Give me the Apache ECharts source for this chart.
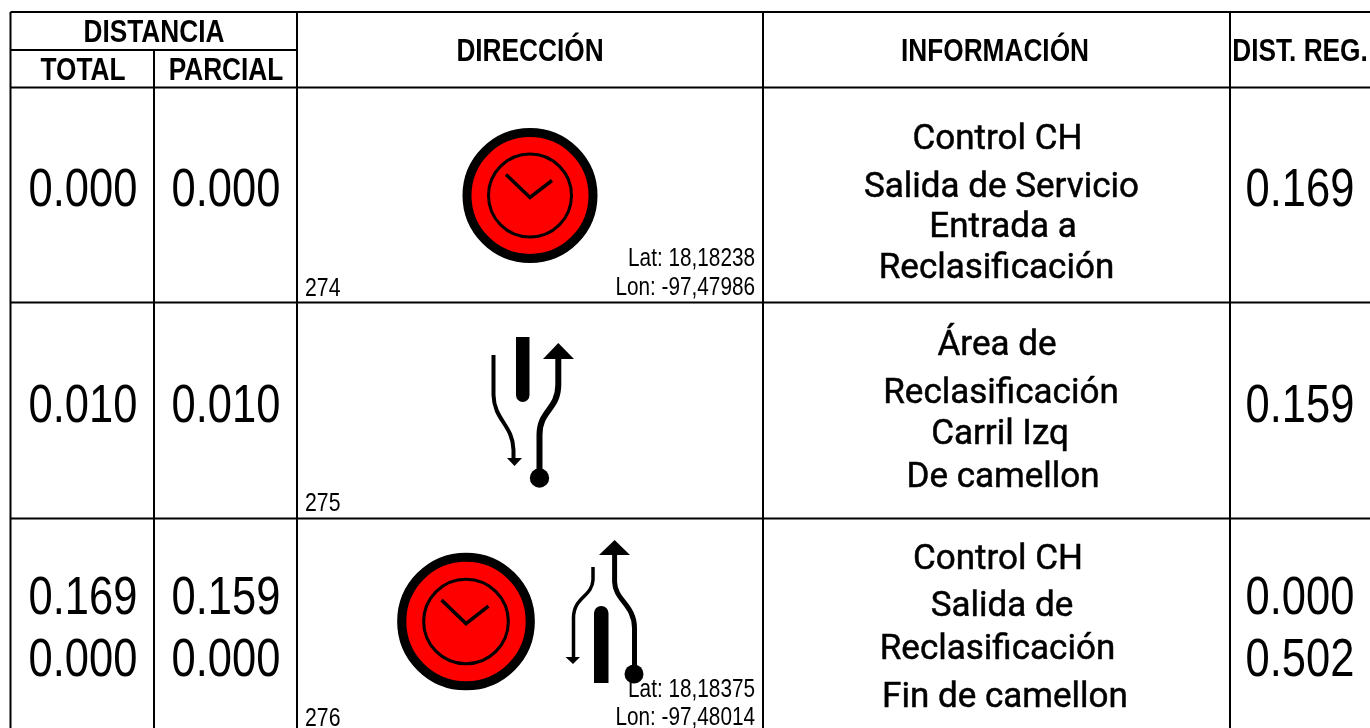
<!DOCTYPE html>
<html><head><meta charset="utf-8">
<script src="https://cdn.jsdelivr.net/npm/echarts@6/dist/echarts.min.js"></script>
<style>html,body{margin:0;padding:0;background:#fff}#c{width:1370px;height:728px}</style>
</head><body><div id="c"></div>
<script>
// ---- table content ----
const headerTop = ['DISTANCIA', 'DIRECCIÓN', 'INFORMACIÓN', 'DIST. REG.'];
const headerSub = ['TOTAL', 'PARCIAL'];
const rowIds = ['274', '275', '276'];
const totals = [['0.000'], ['0.010'], ['0.169', '0.000']];
const partials = [['0.000'], ['0.010'], ['0.159', '0.000']];
const distReg = [['0.169'], ['0.159'], ['0.000', '0.502']];
const latitudes = ['Lat: 18,18238', '', 'Lat: 18,18375'];
const longitudes = ['Lon: -97,47986', '', 'Lon: -97,48014'];
const info = [
  ['Control CH', 'Salida de Servicio', 'Entrada a', 'Reclasificación'],
  ['Área de', 'Reclasificación', 'Carril Izq', 'De camellon'],
  ['Control CH', 'Salida de', 'Reclasificación', 'Fin de camellon']
];

// ---- layout (separate from the content) ----
const W = 1370, H = 728;
const colX = [10.5, 154, 297, 763, 1230];
const rowY = [12, 87.5, 302.5, 518.5];
const headMidY = 50;
const numY = [[191], [407], [599, 661]];
const infoY = [[140.5, 188.5, 228.5, 269.5], [346.5, 394.5, 435.5, 478.5], [560.5, 607.5, 650.5, 698.5]];
const infoX = [[997.5, 1001.5, 1003, 996.5], [997, 1001, 1000, 1003], [998, 1002, 997.5, 1005]];
const idY = [289, 504, 719];
const latY = [259, 0, 690];
const lonY = [288, 0, 718];

const SANS = '"Liberation Sans",Arial,sans-serif';
const NARROW_SCALE = 0.82;
const lines = [];
rowY.forEach(y => lines.push([colX[0], y, W, y]));
lines.push([colX[0], headMidY, colX[2], headMidY]);
colX.forEach((x, i) => {
  if (i === 1) lines.push([x, headMidY, x, H]);
  else lines.push([x, rowY[0], x, H]);
});

const texts = [];
const T = (t, x, y, font, align, sx, sw) => texts.push([x, y, t, font, align || 'center', sx || NARROW_SCALE, sw || 0]);
const HF = 'bold 32px ' + SANS, NF = '53px ' + SANS, SF = '25px ' + SANS;
const IF = '400 35px Roboto,sans-serif';
T(headerTop[0], 154, 33, HF); T(headerSub[0], 83, 71, HF); T(headerSub[1], 226, 71, HF);
T(headerTop[1], 530, 52, HF); T(headerTop[2], 995, 52, HF); T(headerTop[3], 1300, 52, HF);
rowIds.forEach((id, r) => {
  T(id, 305, idY[r], SF, 'left', 0.85);
  totals[r].forEach((v, k) => T(v, 83, numY[r][k], NF));
  partials[r].forEach((v, k) => T(v, 226, numY[r][k], NF));
  distReg[r].forEach((v, k) => T(v, 1300, numY[r][k], NF));
  info[r].forEach((v, k) => T(v, infoX[r][k], infoY[r][k], IF, 'center', 1, 0.5));
  if (latitudes[r]) T(latitudes[r], 755, latY[r], SF, 'right', 0.83);
  if (longitudes[r]) T(longitudes[r], 755, lonY[r], SF, 'right', 0.83);
});

// pictograms, each anchored on a point and drawn relative to it
const iconAnchors = [[530, 195.5, 'clock', 1], [466, 621.5, 'clock', 1.02], [0, 0, 'fork', 1], [0, 0, 'merge', 1]];
const shapes = {
  clock: [
    { type: 'circle', shape: { cx: 0, cy: 0, r: 63 }, style: { fill: '#fe0000', stroke: '#000', lineWidth: 9 } },
    { type: 'circle', shape: { cx: 0, cy: 0, r: 41.5 }, style: { fill: 'none', stroke: '#000', lineWidth: 3 } },
    { type: 'path', shape: { pathData: 'M-24,-21 L0,2 L22,-15' }, style: { fill: 'none', stroke: '#000', lineWidth: 3.5 } }
  ],
  fork: [
    { type: 'path', shape: { pathData: 'M516,337 H529.5 V395 A6.7,7 0 0 1 516,395 Z' }, style: { fill: '#000' } },
    { type: 'path', shape: { pathData: 'M558.3,343 L574,359 H543 Z' }, style: { fill: '#000' } },
    { type: 'path', shape: { pathData: 'M558.3,357 V385 C558,410 539.5,410 539.5,435 V478' }, style: { fill: 'none', stroke: '#000', lineWidth: 6 } },
    { type: 'circle', shape: { cx: 539.5, cy: 478, r: 9.7 }, style: { fill: '#000' } },
    { type: 'path', shape: { pathData: 'M493.5,355 V395 C494,420 513,425 513.5,450 V460' }, style: { fill: 'none', stroke: '#000', lineWidth: 4 } },
    { type: 'path', shape: { pathData: 'M507,458 H522 L514.5,466 Z' }, style: { fill: '#000' } }
  ],
  merge: [
    { type: 'path', shape: { pathData: 'M594,683 V613 A7.2,7 0 0 1 608.5,613 V683 Z' }, style: { fill: '#000' } },
    { type: 'path', shape: { pathData: 'M614.6,540 L630,555 H599 Z' }, style: { fill: '#000' } },
    { type: 'path', shape: { pathData: 'M614.6,553 V582 C615,600 634.5,605 634.5,628 V672' }, style: { fill: 'none', stroke: '#000', lineWidth: 5 } },
    { type: 'circle', shape: { cx: 634, cy: 674, r: 9.5 }, style: { fill: '#000' } },
    { type: 'path', shape: { pathData: 'M593,567 V580 C592,597 573.5,597 573.5,618 V658' }, style: { fill: 'none', stroke: '#000', lineWidth: 3.5 } },
    { type: 'path', shape: { pathData: 'M565.5,657 H580 L573,664 Z' }, style: { fill: '#000' } }
  ]
};

const chart = echarts.init(document.getElementById('c'), null, { renderer: 'canvas' });
chart.setOption({
  animation: false,
  backgroundColor: '#fff',
  grid: { left: 0, right: 0, top: 0, bottom: 0 },
  xAxis: { type: 'value', min: 0, max: W, show: false },
  yAxis: { type: 'value', min: 0, max: H, inverse: true, show: false },
  series: [
    {
      type: 'custom', coordinateSystem: 'cartesian2d', silent: true, data: lines,
      encode: { x: [0, 2], y: [1, 3] },
      renderItem: (p, api) => {
        const a = api.coord([api.value(0), api.value(1)]);
        const b = api.coord([api.value(2), api.value(3)]);
        return { type: 'line', shape: { x1: a[0], y1: a[1], x2: b[0], y2: b[1] }, style: { stroke: '#000', lineWidth: 2 } };
      }
    },
    {
      type: 'custom', coordinateSystem: 'cartesian2d', silent: true, data: iconAnchors,
      renderItem: (p, api) => {
        const a = api.coord([api.value(0), api.value(1)]);
        const s = iconAnchors[p.dataIndex];
        return { type: 'group', x: a[0], y: a[1], scaleX: s[3], scaleY: s[3], children: shapes[s[2]] };
      }
    },
    {
      type: 'custom', coordinateSystem: 'cartesian2d', silent: true, data: texts, z: 5,
      renderItem: (p, api) => {
        const a = api.coord([api.value(0), api.value(1)]);
        const d = texts[p.dataIndex];
        return { type: 'text', x: a[0], y: a[1], scaleX: d[5], style: { text: d[2], font: d[3], align: d[4], verticalAlign: 'middle', fill: '#000', stroke: d[6] ? '#000' : null, lineWidth: d[6] } };
      }
    }
  ]
});
</script></body></html>
